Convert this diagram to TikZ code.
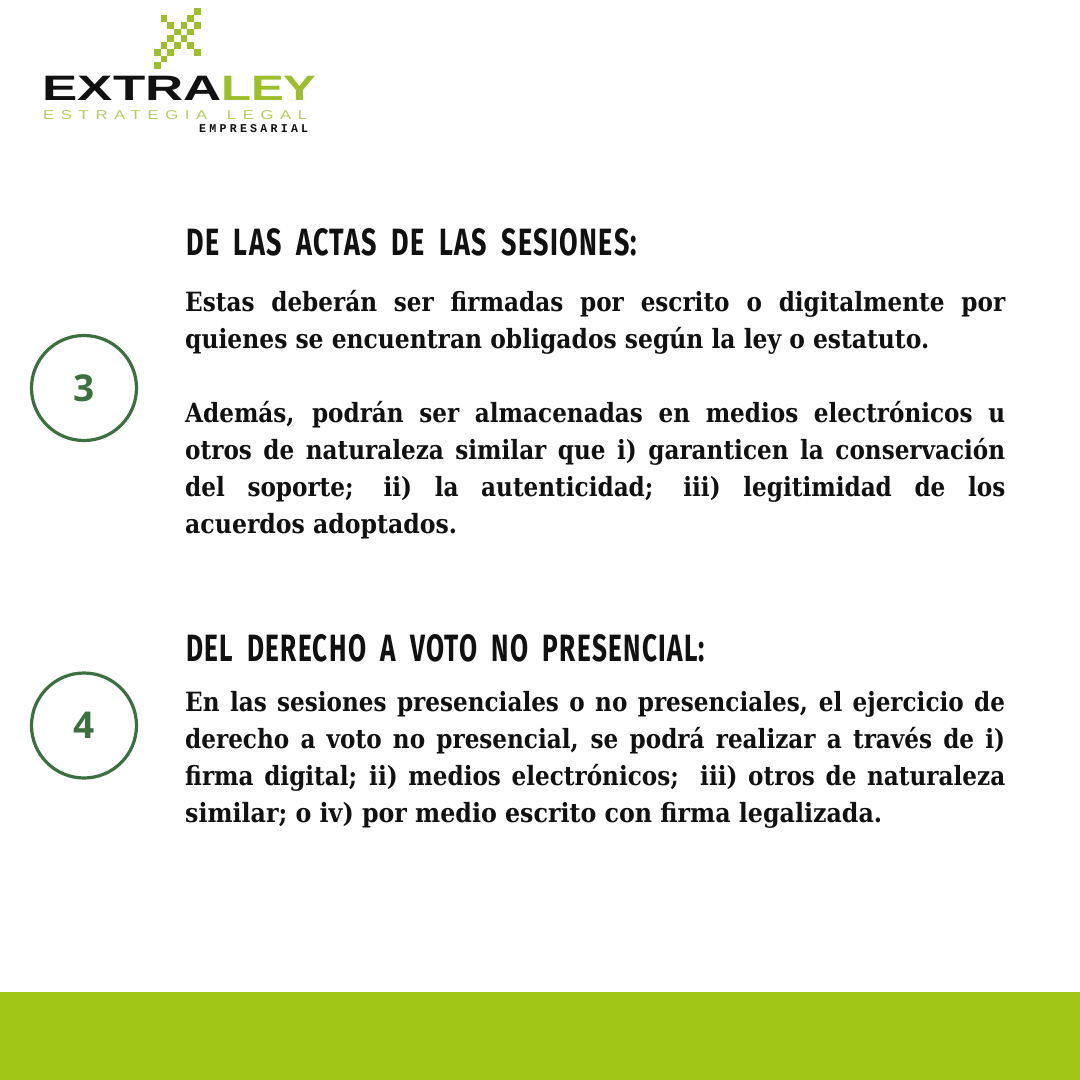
\documentclass[tikz,border=0pt]{standalone}
\usepackage{fontspec}
\usepackage{graphicx}
\setmainfont{Liberation Serif}
\newfontfamily\bodyf[BoldFont={DejaVu Serif Condensed Bold}]{DejaVu Serif Condensed}
\newfontfamily\headf[LetterSpace=5,WordSpace=1.9]{Fira Sans}
\newfontfamily\numf{Open Sans}
\newfontfamily\logof{Liberation Sans}
\newfontfamily\subf[LetterSpace=40]{Liberation Sans}
\newfontfamily\monof[LetterSpace=28]{Liberation Mono}
\definecolor{barg}{HTML}{A2C617}
\definecolor{logog}{HTML}{9DBF2B}
\definecolor{subg}{HTML}{B5CC5E}
\definecolor{ring}{HTML}{3C7040}
\definecolor{ink}{HTML}{111111}
\newcommand{\fitbox}[3]{\resizebox{#1pt}{#2pt}{#3}}
\newcommand{\just}[1]{\scalebox{.97}[1]{\makebox[845.4pt][s]{#1}}}
\newcommand{\natl}[2]{\resizebox{#1pt}{\height}{#2}}
\tikzset{
  x=1pt,y=-1pt,
  bodyline/.style={anchor=base west,inner sep=0pt,text=ink,font=\bodyf\bfseries\fontsize{26.5}{26.5}\selectfont},
  headline/.style={anchor=south west,inner sep=0pt,text=ink,font=\headf\bfseries},
  ringnode/.style={circle,draw=ring,line width=3.2pt,minimum size=105pt,inner sep=0pt,text=ring,font=\numf\bfseries\fontsize{37}{37}\selectfont},
  logotext/.style={anchor=south west,inner sep=0pt},
  pix/.style={fill=logog,draw=none}
}
\begin{document}
\begin{tikzpicture}
\useasboundingbox (0,0) rectangle (1080,1080);
\fill[white] (0,0) rectangle (1080,1080);
\fill[barg] (0,992) rectangle (1080,1080);
% logo mark
\foreach \i/\j in {6/0,5/1,1/1,2/2,4/2,6/2,3/3,5/3,2/4,4/4,1/5,3/5,5/5,0/6,2/6,6/6,1/7,0/8}{
  \fill[pix] ({157.3+6.67*\i-3.4},{11.7+6.75*\j-3.4}) rectangle ++(6.8,6.8);
}
\node[logotext,text=ink] (logoa) at (42.5,100.3) {\fitbox{179}{24.3}{\logof\bfseries EXTRA}};
\node[logotext,text=logog] (logob) at (221,100.3) {\fitbox{95.5}{24.3}{\logof\bfseries LEY}};
\node[logotext,text=subg] (logoc) at (43,120) {\fitbox{264}{9}{\subf ESTRATEGIA\hspace{.5em} LEGAL}};
\node[logotext,text=ink] (logod) at (199,133) {\fitbox{109}{8}{\monof\bfseries EMPRESARIAL}};
% section 3
\node[headline] (h3) at (186,256.5) {\fitbox{451}{27}{DE LAS ACTAS DE LAS SESIONES:}};
\node[bodyline] (a1) at (185,311) {\just{Estas deberán ser firmadas por escrito o digitalmente por}};
\node[bodyline] (a2) at (185,348) {\natl{744}{quienes se encuentran obligados según la ley o estatuto.}};
\node[bodyline] (a3) at (185,422) {\just{Además, podrán ser almacenadas en medios electrónicos u}};
\node[bodyline] (a4) at (185,459) {\just{otros de naturaleza similar que i) garanticen la conservación}};
\node[bodyline] (a5) at (185,496) {\just{del soporte; ii) la autenticidad; iii) legitimidad de los}};
\node[bodyline] (a6) at (185,533) {\natl{272}{acuerdos adoptados.}};
\node[ringnode] (n3) at (84,388) {\raisebox{-1.5pt}{3}};
% section 4
\node[headline] (h4) at (186,662.5) {\fitbox{519}{27}{DEL DERECHO A VOTO NO PRESENCIAL:}};
\node[bodyline] (b1) at (185,711) {\just{En las sesiones presenciales o no presenciales, el ejercicio de}};
\node[bodyline] (b2) at (185,748.5) {\just{derecho a voto no presencial, se podrá realizar a través de i)}};
\node[bodyline] (b3) at (185,785.5) {\just{firma digital; ii) medios electrónicos;\ \ iii) otros de naturaleza}};
\node[bodyline] (b4) at (185,822.5) {\natl{697}{similar; o iv) por medio escrito con firma legalizada.}};
\node[ringnode] (n4) at (84,725.5) {\raisebox{-1.5pt}{4}};
\end{tikzpicture}
\end{document}
